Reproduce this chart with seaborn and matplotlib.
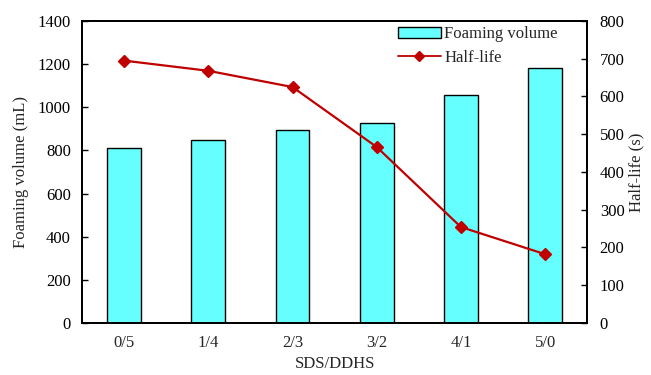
import matplotlib
matplotlib.use("Agg")
import matplotlib.pyplot as plt
import seaborn as sns
import pandas as pd
from matplotlib.patches import Patch
from matplotlib.lines import Line2D

categories = ["0/5", "1/4", "2/3", "3/2", "4/1", "5/0"]
foaming_volume = [812, 849, 893, 927, 1055, 1180]
half_life = [695, 668, 625, 466, 254, 182]

sns.set_theme(style="white")
plt.rcParams['font.family'] = ['Liberation Serif', 'DejaVu Serif']
plt.rcParams['font.size'] = 12

df = pd.DataFrame({"ratio": categories, "vol": foaming_volume, "hl": half_life})

fs = 12
fig = plt.figure(figsize=(6.51, 3.75), dpi=100)
ax = fig.add_axes([0.126, 0.139, 0.776, 0.805])
sns.barplot(data=df, x="ratio", y="vol", color="#66FFFF", edgecolor="black",
            linewidth=1.0, width=0.4, saturation=1, ax=ax)
ax.set_ylim(0, 1400)
ax.set_yticks(range(0, 1401, 200))
ax.set_xlim(-0.5, 5.5)
ax.set_xlabel("SDS/DDHS", fontsize=fs, labelpad=3)
ax.set_ylabel("Foaming volume (mL)", fontsize=fs, labelpad=6)
for s in ax.spines.values():
    s.set_color("black")
    s.set_linewidth(1.3)
ax.tick_params(axis="y", direction="in", length=4, width=1, labelsize=fs, pad=8, colors="black")
ax.tick_params(axis="x", length=0, labelsize=fs, pad=9)

ax2 = ax.twinx()
ax2.plot(range(len(categories)), half_life, color="#C00000", marker="D",
         markersize=6.5, linewidth=1.6)
ax2.set_ylim(0, 800)
ax2.set_yticks(range(0, 801, 100))
ax2.set_ylabel("Half-life (s)", fontsize=fs, labelpad=3)
ax2.tick_params(axis="y", direction="in", length=4, width=1, labelsize=fs, pad=9, colors="black")
for s in ax2.spines.values():
    s.set_color("black")
    s.set_linewidth(1.3)
ax2.grid(False)
ax.grid(False)

handles = [Patch(facecolor="#66FFFF", edgecolor="black", linewidth=1.0),
           Line2D([0], [0], color="#C00000", marker="D", markersize=5, linewidth=1.3)]
ax2.legend(handles, ["Foaming volume", "Half-life"], loc="upper right",
           frameon=False, fontsize=fs, handlelength=2.6, handleheight=0.6,
           borderaxespad=0.0, bbox_to_anchor=(0.955, 1.005), labelspacing=0.45, handletextpad=0.2)

fig.savefig("out.png", dpi=100)
